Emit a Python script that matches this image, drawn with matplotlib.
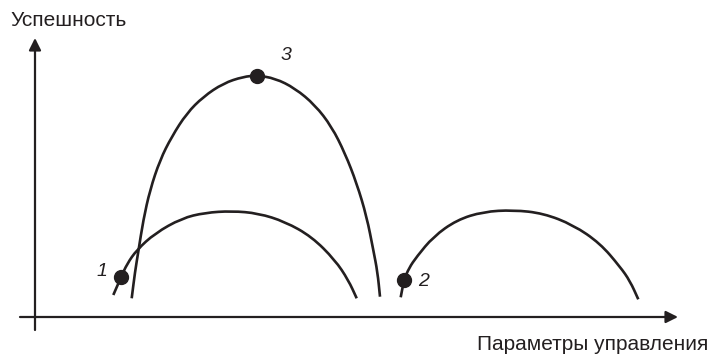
import matplotlib.pyplot as plt
from matplotlib.path import Path
from matplotlib.patches import PathPatch

plt.rcParams['font.family'] = ['Liberation Sans', 'DejaVu Sans']

tall_x = [131.7, 135.0, 138.3, 143.3, 150.0, 160.0, 171.7, 186.7, 203.3, 223.3, 243.3, 257.0,
          275.0, 295.0, 315.0, 331.7, 345.0, 356.7, 366.7, 373.3, 377.5, 380.0]
tall_y = [298.3, 272.0, 251.7, 220.0, 190.0, 160.0, 136.7, 113.3, 96.7, 83.3, 76.7, 75.5,
          78.3, 88.3, 105.0, 126.7, 153.3, 183.3, 216.7, 250.0, 272.0, 296.7]

low1_x = [113.3, 121.0, 127.0, 136.7, 155.0, 181.7, 205.0, 231.7, 258.3, 285.0, 311.7, 335.0, 348.3, 356.7]
low1_y = [295.0, 277.3, 264.0, 250.0, 233.3, 218.3, 212.7, 211.0, 213.3, 221.7, 236.7, 260.0, 280.0, 298.3]

low2_x = [400.7, 404.0, 409.0, 416.7, 433.3, 456.7, 483.3, 513.3, 543.3, 573.3, 600.0, 620.0, 630.0, 638.3]
low2_y = [297.3, 280.0, 268.0, 256.7, 236.7, 220.0, 211.7, 210.0, 213.3, 225.0, 243.3, 266.7, 281.0, 299.3]

dot_x = [121, 404, 257]
dot_y = [277, 280, 76]
dot_labels = ['1', '2', '3']
label_x = [102, 424, 286]
label_y = [272, 282, 56]

ink = '#231f20'


def smooth_path(xs, ys):
    # quadratic bezier through midpoints, read points used as control points
    pts = list(zip(xs, ys))
    verts = [pts[0]]
    codes = [Path.MOVETO]
    mid = ((pts[0][0] + pts[1][0]) / 2, (pts[0][1] + pts[1][1]) / 2)
    verts.append(mid)
    codes.append(Path.LINETO)
    for i in range(1, len(pts) - 1):
        nxt = ((pts[i][0] + pts[i + 1][0]) / 2, (pts[i][1] + pts[i + 1][1]) / 2)
        verts += [pts[i], nxt]
        codes += [Path.CURVE3, Path.CURVE3]
    verts.append(pts[-1])
    codes.append(Path.LINETO)
    return Path(verts, codes)


fig = plt.figure(figsize=(7.09, 3.55), dpi=100)
ax = fig.add_axes([0, 0, 1, 1])
ax.set_xlim(0, 709)
ax.set_ylim(355, 0)
ax.axis('off')

# axes with arrows
ax.annotate('', xy=(35, 38), xytext=(35, 330),
            arrowprops=dict(arrowstyle='-|>', lw=1.6, color=ink, mutation_scale=18, shrinkA=0, shrinkB=0))
ax.annotate('', xy=(678, 317), xytext=(20, 317),
            arrowprops=dict(arrowstyle='-|>', lw=1.6, color=ink, mutation_scale=18, shrinkA=0, shrinkB=0))

ax.text(10, 20, 'Успешность', fontsize=15, color=ink, ha='left', va='center')
ax.text(708, 344, 'Параметры управления', fontsize=15, color=ink, ha='right', va='center')

for xs, ys in [(tall_x, tall_y), (low1_x, low1_y), (low2_x, low2_y)]:
    ax.add_patch(PathPatch(smooth_path(xs, ys), facecolor='none', edgecolor=ink, lw=1.9,
                           capstyle='butt', joinstyle='round'))

ax.plot(dot_x, dot_y, 'o', color=ink, markersize=10, zorder=5)
for lx, ly, t in zip(label_x, label_y, dot_labels):
    ax.text(lx, ly, t, fontsize=14, style='italic', color=ink, ha='center', va='center')

fig.savefig('out.png', dpi=100)
